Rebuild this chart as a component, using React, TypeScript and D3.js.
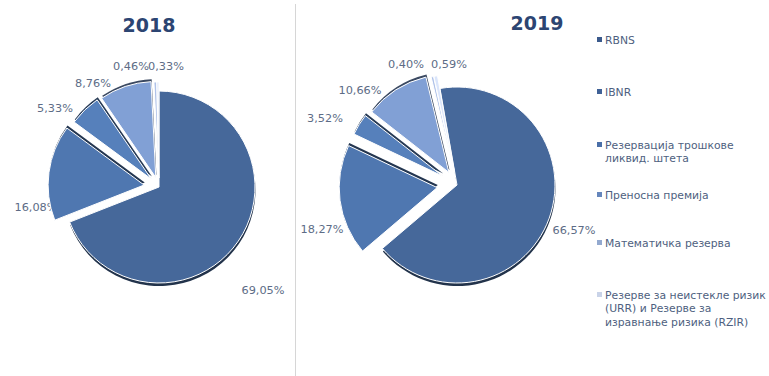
import React from "react";
import * as d3 from "d3";

const categories = [
  "RBNS",
  "IBNR",
  "Резервација трошкове ликвид. штета",
  "Преносна премија",
  "Математичка резерва",
  "Резерве за неистекле ризик (URR) и Резерве за изравнање ризика (RZIR)",
];
const legendLines = [
  ["RBNS"],
  ["IBNR"],
  ["Резервација трошкове", "ликвид. штета"],
  ["Преносна премија"],
  ["Математичка резерва"],
  ["Резерве за неистекле ризик", "(URR) и Резерве за", "изравнање ризика (RZIR)"],
];
const years = ["2018", "2019"];
const values2018 = [69.05, 16.08, 5.33, 8.76, 0.46, 0.33];
const values2019 = [66.57, 18.27, 3.52, 10.66, 0.4, 0.59];

const colors = ["#41618F", "#4A6FA4", "#5077AE", "#7895C6", "#A3B5D9", "#CBD5EA"];
const legendColors = ["#3B5A8C", "#3F6196", "#4A6FA8", "#6586BC", "#93A9CF", "#C9D3E8"];

const fmt = (v: number) => d3.format(".2f")(v).replace(".", ",") + "%";

type PieCfg = {
  values: number[];
  title: string;
  titleX: number;
  titleY: number;
  cx: number;
  cy: number;
  r: number;
  rot: number;
  explode: number[];
  labelOffsets: [number, number][];
  id: string;
};

const pies: PieCfg[] = [
  {
    values: values2018,
    title: years[0],
    titleX: 149,
    titleY: 25,
    cx: 159,
    cy: 187,
    r: 96,
    rot: 0,
    explode: [0, 15, 11, 10, 9, 9],
    labelOffsets: [[104, 103], [-123, 20], [-104, -79], [-66, -104], [-28, -121], [7, -121]],
    id: "a",
  },
  {
    values: values2019,
    title: years[1],
    titleX: 537,
    titleY: 23,
    cx: 457,
    cy: 185,
    r: 98,
    rot: -10,
    explode: [0, 20, 17, 15, 13, 13],
    labelOffsets: [[117, 45], [-135, 44], [-132, -67], [-97, -95], [-51, -121], [-8, -121]],
    id: "b",
  },
];

function Pie({ cfg }: { cfg: PieCfg }) {
  const rot = (cfg.rot * Math.PI) / 180;
  const arcs = d3
    .pie<number>()
    .sort(null)
    .value((d) => d)
    .startAngle(rot)
    .endAngle(rot + 2 * Math.PI)(cfg.values);
  const arcGen = d3.arc<d3.PieArcDatum<number>>().innerRadius(0).outerRadius(cfg.r);
  const offs = arcs.map((a, i) => {
    const mid = (a.startAngle + a.endAngle) / 2;
    return [Math.sin(mid) * cfg.explode[i], -Math.cos(mid) * cfg.explode[i]];
  });
  return (
    <g>
      <defs>
        {colors.map((c, i) => {
          const base = d3.color(c)!;
          return (
            <linearGradient
              key={i}
              id={`g${cfg.id}${i}`}
              gradientUnits="userSpaceOnUse"
              x1={cfg.cx - cfg.r}
              y1={cfg.cy - cfg.r}
              x2={cfg.cx + cfg.r * 0.8}
              y2={cfg.cy + cfg.r}
            >
              <stop offset="0" stopColor={base.brighter(0.2).formatHex()} />
              <stop offset="0.55" stopColor={c} />
              <stop offset="1" stopColor={base.darker(0.3).formatHex()} />
            </linearGradient>
          );
        })}
      </defs>
      <text
        x={cfg.titleX}
        y={cfg.titleY}
        textAnchor="middle"
        dominantBaseline="central"
        fontFamily="DejaVu Sans, Verdana, sans-serif"
        fontWeight="bold"
        fontSize={19}
        fill="#2C4572"
      >
        {cfg.title}
      </text>
      {arcs.map((a, i) => (
        <text
          key={"l" + i}
          x={cfg.cx + cfg.labelOffsets[i][0]}
          y={cfg.cy + cfg.labelOffsets[i][1]}
          textAnchor="middle"
          dominantBaseline="central"
          fontFamily="DejaVu Sans, Verdana, sans-serif"
          fontSize={11.3}
          fill="#5D6C86"
        >
          {fmt(a.data)}
        </text>
      ))}
      {/* bottom rim of the 3D disc */}
      <path
        d={arcGen(arcs[0])!}
        transform={`translate(${cfg.cx + 0.5},${cfg.cy + 3})`}
        fill={d3.color(colors[0])!.darker(1.8).formatHex()}
      />
      {arcs.map((a, i) =>
        i === 0 || i >= 4 ? null : (
          <path
            key={"s" + i}
            d={arcGen(a)!}
            transform={`translate(${cfg.cx + offs[i][0] + 0.6},${cfg.cy + offs[i][1] - 2.5})`}
            fill={d3.color(colors[i])!.darker(2).formatHex()}
          />
        )
      )}
      {arcs.map((a, i) => (
        <path
          key={"f" + i}
          d={arcGen(a)!}
          transform={`translate(${cfg.cx + offs[i][0]},${cfg.cy + offs[i][1]})`}
          fill={`url(#g${cfg.id}${i})`}
          stroke="#ffffff"
          strokeWidth={1}
          strokeLinejoin="round"
        />
      ))}
    </g>
  );
}

export default function App() {
  const legendY = [40, 92, 145, 195, 243, 295];
  return (
    <svg
      width={769}
      height={376}
      style={{ position: "absolute", left: 0, top: 0, background: "#ffffff" }}
    >
      <rect width={769} height={376} fill="#ffffff" />
      <line x1={295.5} y1={4} x2={295.5} y2={376} stroke="#D6D6D6" strokeWidth={1} />
      {pies.map((p) => (
        <Pie key={p.id} cfg={p} />
      ))}
      <g fontFamily="DejaVu Sans, Verdana, sans-serif" fontSize={10.8} fill="#4E5F80">
        {categories.map((c, i) => (
          <g key={c}>
            <rect x={597} y={legendY[i] - 3} width={5} height={5} fill={legendColors[i]} />
            {legendLines[i].map((ln, j) => (
              <text key={j} x={605} y={legendY[i] + j * 13.5} dominantBaseline="central">
                {ln}
              </text>
            ))}
          </g>
        ))}
      </g>
    </svg>
  );
}
